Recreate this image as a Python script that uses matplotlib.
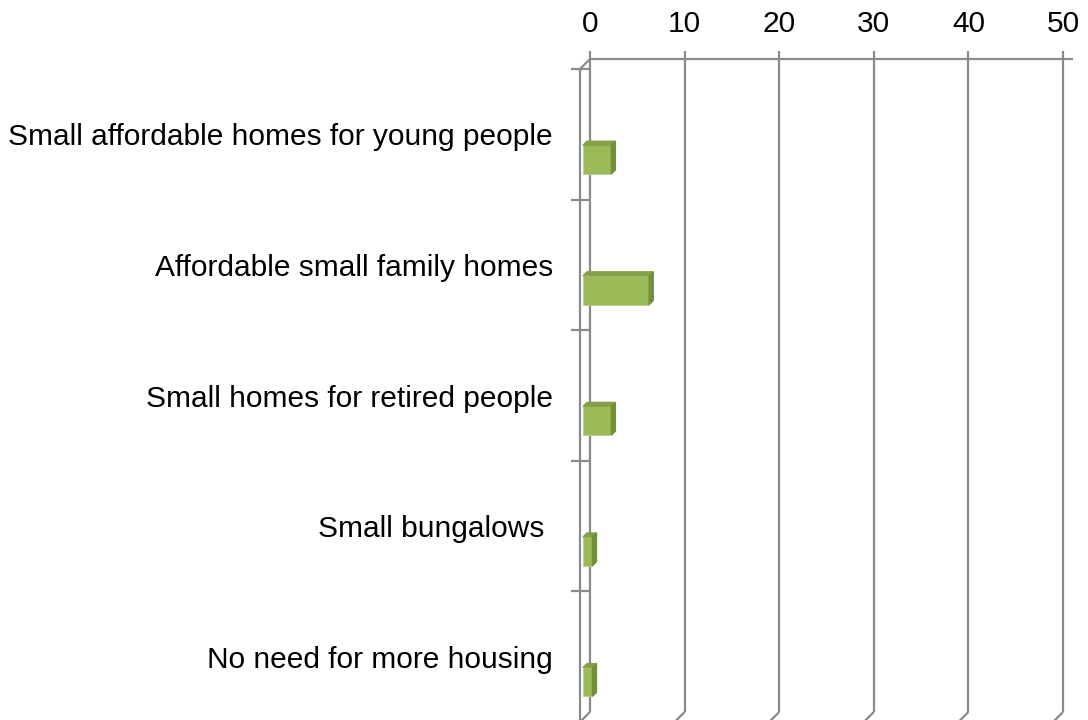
import matplotlib
matplotlib.use("Agg")
import matplotlib.pyplot as plt
from matplotlib.patches import Polygon

categories = ["Small affordable homes for young people",
              "Affordable small family homes",
              "Small homes for retired people",
              "Small bungalows ",
              "No need for more housing"]
values = [3, 7, 3, 1, 1]
xticks = [0, 10, 20, 30, 40, 50]

plt.rcParams["font.family"] = ["Liberation Sans", "DejaVu Sans"]

W, H = 1088, 720
# back wall of the 3d box, in pixels
left, right, top, bottom = 590, 1063, 59, 712
px_x = (right - left) / 50.0           # pixels per unit on x
px_y = (bottom - top) / len(categories)  # pixels per category

fig = plt.figure(figsize=(W / 100, H / 100), dpi=100)
ax = fig.add_axes([left / W, (H - bottom) / H, (right - left) / W, (bottom - top) / H])
ax.set_xlim(0, 50)
ax.set_ylim(len(categories), 0)
ax.axis("off")

grid = "#8a8a8a"
lw = 1.6
fs = 21.5
n = len(categories)
# depth of the box (front plane sits down-left of the back wall)
dx, dy = 10 / px_x, 10 / px_y

def line(xs, ys):
    ax.plot(xs, ys, color=grid, lw=lw, clip_on=False, solid_capstyle="butt")

for v in xticks:
    line([v, v], [0, n])
    line([v, v - dx], [n, n + dy])
    line([v, v], [0, -8 / px_y])
    ax.text(v, -0.27, str(v), ha="center", va="center", fontsize=fs, color="black", clip_on=False)

line([0, 50 + dx], [0, 0])
line([0, -dx], [0, dy])
line([-dx, -dx], [dy, n + dy])
for i in range(n + 1):
    line([-19 / px_x, 0], [i + dy, i + dy])

# bars: front face, top face, side face
face, topc, side = "#9bbb59", "#84a148", "#71903a"
bx0 = -7 / px_x
bh = 0.22
ddx, ddy = 4 / px_x, 4 / px_y
centers = [i + 0.77 for i in range(n)]
ax.barh(centers, values, left=bx0, height=bh, color=face, edgecolor="#b9d08a", linewidth=0.6, clip_on=False, zorder=3)
for c, v in zip(centers, values):
    y0, y1 = c - bh / 2, c + bh / 2
    x1 = bx0 + v
    ax.add_patch(Polygon([(bx0, y0), (bx0 + ddx, y0 - ddy), (x1 + ddx, y0 - ddy), (x1, y0)],
                         closed=True, color=topc, clip_on=False, zorder=3))
    ax.add_patch(Polygon([(x1, y0), (x1 + ddx, y0 - ddy), (x1 + ddx, y1 - ddy), (x1, y1)],
                         closed=True, color=side, clip_on=False, zorder=3))

for i, lab in enumerate(categories):
    ax.text(-37 / px_x, i + 0.6, lab, ha="right", va="center", fontsize=fs, color="black", clip_on=False)

fig.savefig("out.png", dpi=100)
